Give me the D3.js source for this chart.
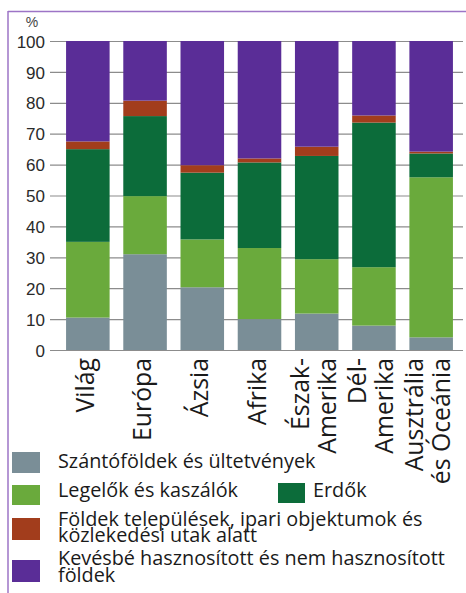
<!DOCTYPE html>
<html><head><meta charset="utf-8">
<script src="https://cdn.jsdelivr.net/npm/d3@7"></script>
<style>body{margin:0;background:#fff}svg{display:block}</style>
</head><body>
<svg id="c" width="466" height="593"></svg>
<script>
const categories = [["Világ"],["Európa"],["Ázsia"],["Afrika"],["Észak-","Amerika"],["Dél-","Amerika"],["Ausztrália","és Óceánia"]];
const seriesNames = ["Szántóföldek és ültetvények","Legelők és kaszálók","Erdők","Földek települések, ipari objektumok és közlekedési utak alatt","Kevésbé hasznosított és nem hasznosított földek"];
const arable   = [10.5, 31, 20.3, 10, 11.8, 7.9, 4.1];
const pasture  = [24.5, 18.8, 15.5, 23, 17.6, 18.9, 51.8];
const forest   = [30, 25.9, 21.6, 27.7, 33.4, 46.8, 7.7];
const builtUp  = [2.5, 5, 2.4, 1.3, 3, 2.3, 0.6];
const other    = [32.5, 19.3, 40.2, 38, 34.2, 24.1, 35.8];
const yTicks = [0,10,20,30,40,50,60,70,80,90,100];
const colors = ["#7a8e97","#6aaa3c","#0c6c3a","#a23d1c","#5a2d97"];

const svg = d3.select("#c");
const series = [arable, pasture, forest, builtUp, other];
const keys = categories.map(c => c.join(" "));
const rows = keys.map((k,i) => { const o = {key:k}; series.forEach((s,j)=>o["s"+j]=s[i]); return o; });
const stack = d3.stack().keys(series.map((_,j)=>"s"+j))(rows);

const y = d3.scaleLinear().domain([0,100]).range([350,41]);
const x = d3.scaleBand().domain(keys).range([59.2,459.8]).paddingInner(0.239).paddingOuter(0.12);

const font = "'Open Sans', 'Noto Sans', sans-serif";
function fitSize(text, target, base) {
  const t = svg.append("text").attr("font-family",font).attr("font-size",base).text(text);
  const w = t.node().getComputedTextLength(); t.remove();
  return base * target / w;
}

// frame
svg.append("line").attr("x1",8).attr("x2",466).attr("y1",11.5).attr("y2",11.5).attr("stroke","#9d74c6").attr("stroke-width",1.5);
svg.append("line").attr("x1",8).attr("x2",8).attr("y1",11).attr("y2",593).attr("stroke","#9d74c6").attr("stroke-width",1.5);

// grid
const yAxis = d3.axisLeft(y).tickValues(yTicks).tickSize(-413).tickPadding(5).tickFormat(d3.format("d"));
const g = svg.append("g").attr("transform","translate(50,0)").call(yAxis);
g.select(".domain").remove();
g.selectAll(".tick line").attr("stroke","#8c8c8c").attr("stroke-width",1.2);
g.selectAll(".tick text").attr("font-family","Liberation Sans, Arial, sans-serif").attr("font-size",17).attr("fill","#2a2a2a").attr("x",-5).attr("dy","0.36em");
svg.append("text").attr("x",32).attr("y",27).attr("text-anchor","middle").attr("font-family","Liberation Sans, Arial, sans-serif").attr("font-size",14).attr("fill","#444").text("%");

// bars
svg.append("g").selectAll("g").data(stack).join("g").attr("fill",(d,i)=>colors[i])
  .selectAll("rect").data(d=>d).join("rect")
  .attr("x",d=>x(d.data.key)).attr("width",x.bandwidth())
  .attr("y",d=>y(d[1])).attr("height",d=>y(d[0])-y(d[1]));

// x labels
const xfs = fitSize("Európa", 83, 20);
categories.forEach((c,i) => {
  const cx = x(keys[i]) + x.bandwidth()/2;
  const offs = c.length === 1 ? [6] : [-8, 19];
  c.forEach((t,j) => {
    svg.append("text").attr("transform",`translate(${cx+offs[j]},358) rotate(-90)`)
      .attr("text-anchor","end").attr("font-family",font).attr("font-size",xfs).attr("fill","#1a1a1a").text(t);
  });
});

// legend
const lfs = fitSize("Kevésbé hasznosított és nem hasznosított", 387, 19);
const legend = [
  {c:0, sx:12, sy:452, sh:21, tx:58, lines:[["Szántóföldek és ültetvények",468]]},
  {c:1, sx:12, sy:485, sh:20, tx:58, lines:[["Legelők és kaszálók",497]]},
  {c:2, sx:278, sy:483, sh:20, tx:313, lines:[["Erdők",497]]},
  {c:3, sx:12, sy:518, sh:22, tx:58, lines:[["Földek települések, ipari objektumok és",526],["közlekedési utak alatt",542]]},
  {c:4, sx:12, sy:560, sh:22, tx:58, lines:[["Kevésbé hasznosított és nem hasznosított",565],["földek",582]]}
];
legend.forEach(l => {
  svg.append("rect").attr("x",l.sx).attr("y",l.sy).attr("width",l.c===2?27:28).attr("height",l.sh).attr("fill",colors[l.c]);
  const t = svg.append("text").attr("font-family",font).attr("font-size",lfs).attr("fill","#1a1a1a");
  l.lines.forEach(([s,yy]) => t.append("tspan").attr("x",l.tx).attr("y",yy).text(s));
});
</script>
</body></html>
